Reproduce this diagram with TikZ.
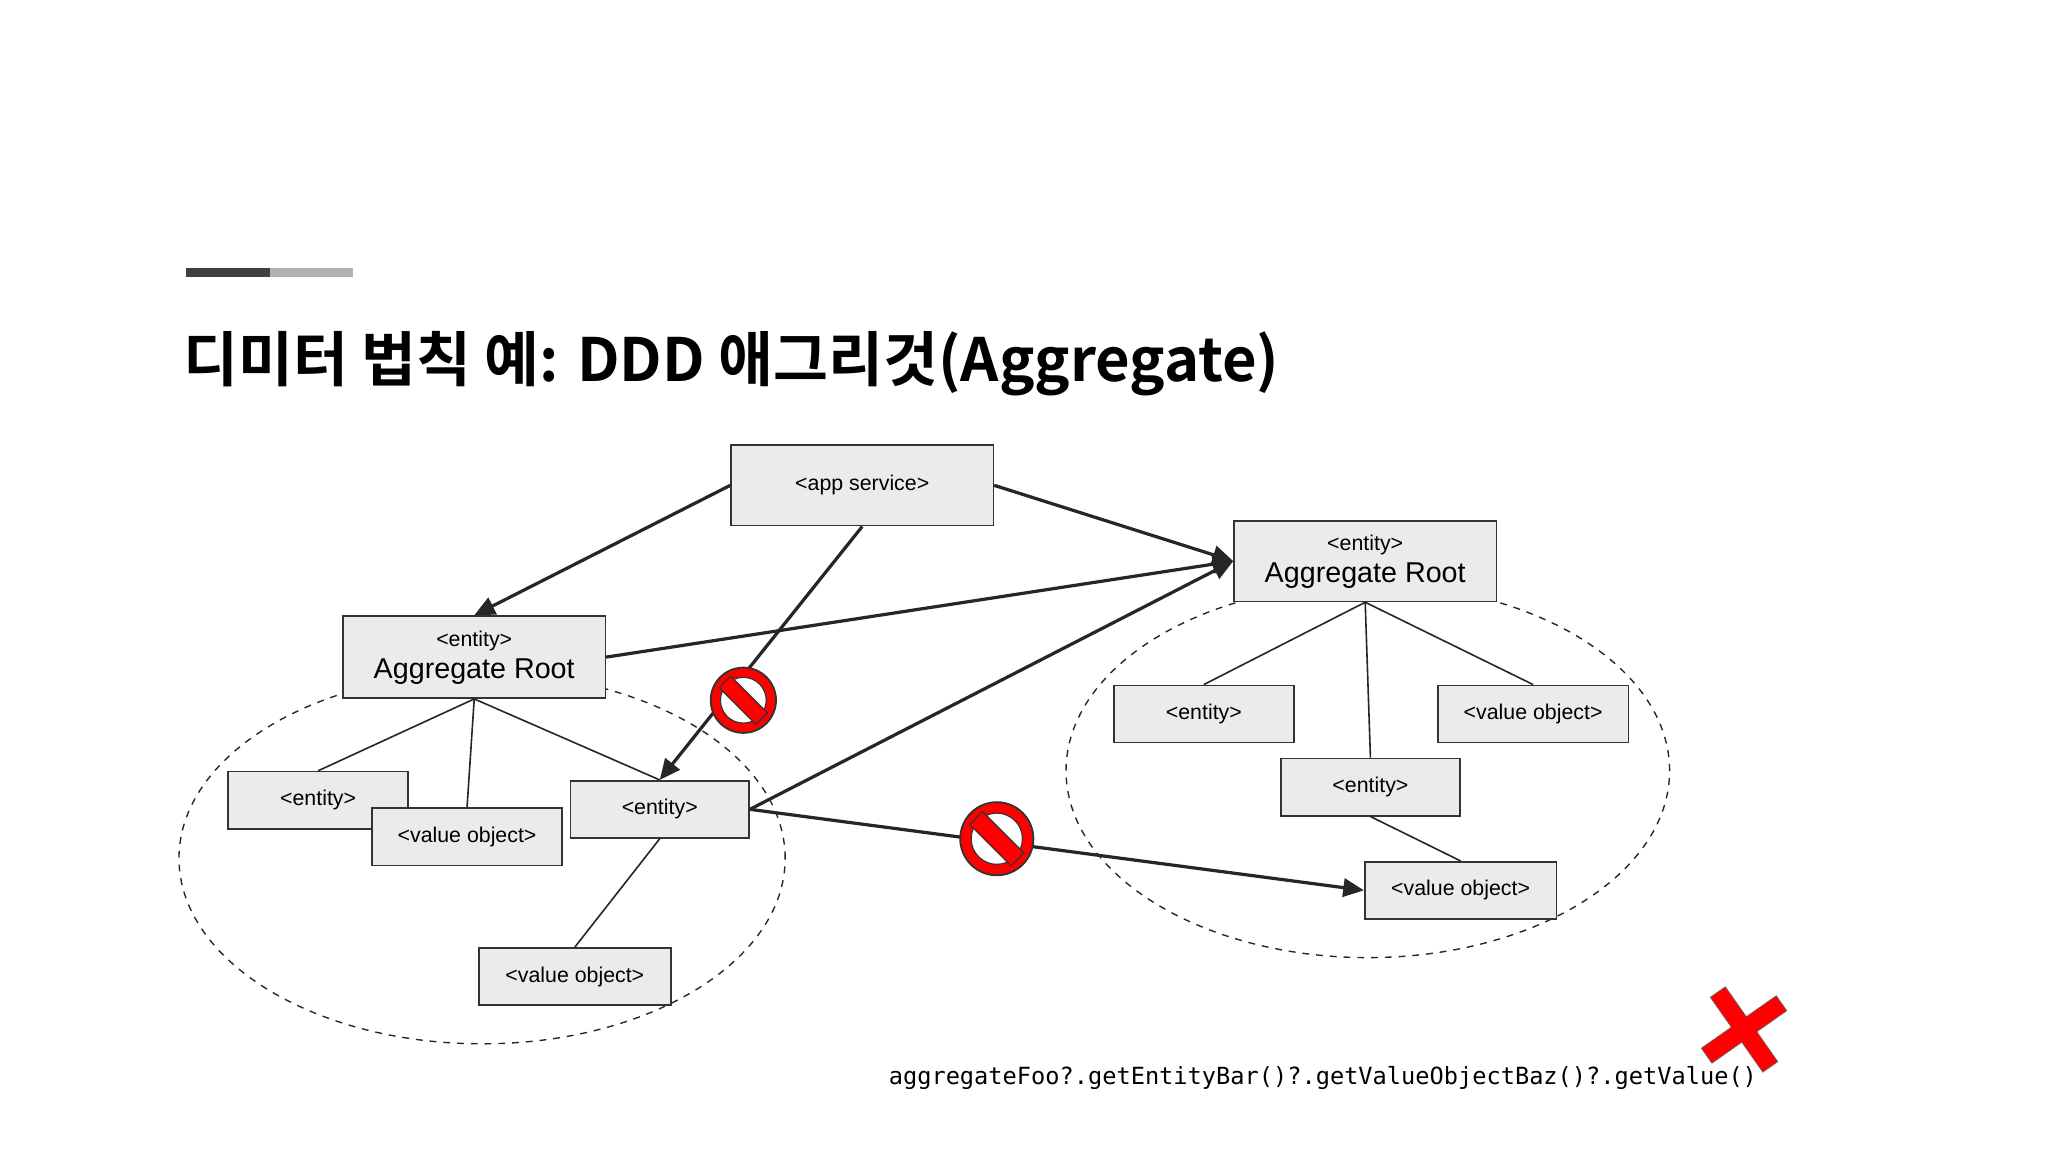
\documentclass[tikz,border=0pt]{standalone}
\usepackage{fontspec}
\setmainfont{Liberation Sans}
\newfontfamily\kr{Noto Sans CJK KR Bold}
\newfontfamily\codefont{DejaVu Sans Mono}
\usetikzlibrary{arrows.meta}
\tikzset{
 bx/.style={draw=black!80,fill=black!8,line width=0.7pt,inner sep=0pt,font=\fontsize{9.3}{11}\selectfont},
 ln/.style={line width=0.7pt,black!85},
 ar/.style={line width=1.4pt,black!85,-{Triangle[length=9pt,width=8pt]}},
 ell/.style={dashed,line width=0.6pt,black!85},
}
\newcommand{\mkbox}[6]{\node[bx,minimum width=#4*0.02cm-0.7pt,minimum height=#5*0.02cm-0.7pt] (#1) at (#2*0.02,-#3*0.02) {#6};}
\newcommand{\nosign}[4]{\begin{scope}[shift={(#2*0.02,-#3*0.02)}]
 \node[circle,minimum size=#4*0.04cm,inner sep=0pt,draw=black!80,fill=red,line width=0.8pt] (#1) {};
 \fill[white] (0,0) circle (#4*0.014);
 \draw[black!80,line width=0.5pt] (0,0) circle (#4*0.014);
 \fill[red,draw=black!80,line width=0.5pt,rotate=-45] (-#4*0.016,-#4*0.005) rectangle (#4*0.016,#4*0.005);
\end{scope}}
\begin{document}
\begin{tikzpicture}
\useasboundingbox[fill=white] (0,0) rectangle (31.36,-17.64);
\fill[black!75] (142*0.02,-205*0.02) rectangle (207*0.02,-212*0.02);
\fill[black!30] (207*0.02,-205*0.02) rectangle (270*0.02,-212*0.02);
\node[anchor=base west,inner sep=0pt,font=\fontsize{26}{30}\selectfont] (title) at (140*0.02,-292*0.02) {\kr 디미터 법칙 예: DDD 애그리것(Aggregate)};
% ellipses
\draw[ell] (369*0.02,-657*0.02) ellipse (232*0.02 and 142*0.02);
\draw[ell] (1047*0.02,-590*0.02) ellipse (231*0.02 and 143*0.02);
% boxes
\mkbox{app}{660}{371.5}{202}{63}{<app service>}
\mkbox{arl}{363}{503}{202}{64}{\begin{tabular}{@{}c@{}}<entity>\\[2pt]{\fontsize{12.5}{14}\selectfont Aggregate Root}\end{tabular}}
\mkbox{arr}{1045}{429.5}{202}{63}{\begin{tabular}{@{}c@{}}<entity>\\[2pt]{\fontsize{12.5}{14}\selectfont Aggregate Root}\end{tabular}}
\mkbox{le1}{243.5}{612.5}{139}{45}{<entity>}
\mkbox{lv1}{357.5}{640.5}{147}{45}{<value object>}
\mkbox{le2}{505}{619.5}{138}{45}{<entity>}
\mkbox{lv2}{440}{747.5}{148}{45}{<value object>}
\mkbox{re1}{921.5}{546.5}{139}{45}{<entity>}
\mkbox{rv1}{1173.5}{546.5}{147}{45}{<value object>}
\mkbox{re2}{1049}{602.5}{138}{45}{<entity>}
\mkbox{rv2}{1118}{681.5}{148}{45}{<value object>}
% lines
\draw[ln] (arl.south) -- (le1.north);
\draw[ln] (arl.south) -- (lv1.north);
\draw[ln] (arl.south) -- (le2.north);
\draw[ln] (le2.south) -- (lv2.north);
\draw[ln] (arr.south) -- (re1.north);
\draw[ln] (arr.south) -- (rv1.north);
\draw[ln] (arr.south) -- (re2.north);
\draw[ln] (re2.south) -- (rv2.north);
% arrows
\draw[ar] (app.west) -- (arl.north);
\draw[ar] (app.south) -- (le2.north);
\draw[ar] (app.east) -- (arr.west);
\draw[ar] (arl.east) -- (arr.west);
\draw[ar] (le2.east) -- (arr.west);
\draw[ar] (le2.east) -- (rv2.west);
% no signs
\nosign{ns1}{569}{536}{25}
\nosign{ns2}{763}{642}{28}
% code
\node[anchor=base west,inner sep=0pt,font=\codefont\fontsize{10.3}{12}\selectfont] (code) at (680*0.02,-830*0.02) {aggregateFoo?.getEntityBar()?.getValueObjectBaz()?.getValue()};
% red X
\begin{scope}[shift={(1335*0.02,-788*0.02)},rotate=35]
\fill[red,draw=black!60,line width=0.3pt] (-0.14,-0.7) -- (0.14,-0.7) -- (0.14,-0.14) -- (0.7,-0.14) -- (0.7,0.14) -- (0.14,0.14) -- (0.14,0.7) -- (-0.14,0.7) -- (-0.14,0.14) -- (-0.7,0.14) -- (-0.7,-0.14) -- (-0.14,-0.14) -- cycle;
\end{scope}
\end{tikzpicture}
\end{document}
